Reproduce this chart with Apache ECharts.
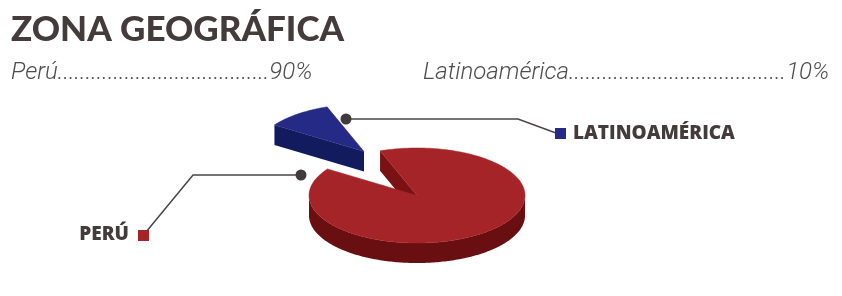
<!DOCTYPE html>
<html><head><meta charset="utf-8">
<script src="https://cdn.jsdelivr.net/npm/echarts@6/dist/echarts.min.js"></script>
<style>html,body{margin:0;padding:0;background:#fff}#c{width:842px;height:296px}</style>
</head><body><div id="c"></div>
<script>
// ---- data ----
const titleText = 'ZONA GEOGRÁFICA';
const categories = ['Perú', 'Latinoamérica'];
const values = [90, 10];
const percentLabels = ['90%', '10%'];
const dotCounts = [38, 39];

// ---- styles / layout ----
const topColors = ['#A52428', '#262A87'];
const sideColors = ['#690E11', '#121B5D'];
const cutColors = ['#7A1114', '#121B5D'];
const PIE = {cx: 417, cy: 195.5, rx: 108, ry: 47.5, depth: 20, startAngle: 146};
const EXPLODE = [[0, 0], [-53, -44]];
const LABELS = [
  {path: [[301, 175], [193, 175], [146, 232]], sq: [138, 230, 11, 11], text: [129, 235], align: 'right'},
  {path: [[346, 119], [518, 119], [556, 133]], sq: [555, 128, 11, 11], text: [573, 133.5], align: 'left'}
];
const SUB = [{x: 11, y: 73}, {x: 423, y: 73}];
const INK = '#433B3C';

const total = values.reduce((s, v) => s + v, 0);
const angles = [];
let acc = PIE.startAngle;
values.forEach(v => { const a0 = acc; acc += v / total * 360; angles.push([a0, acc]); });

function pt(a, ox, oy, dz) {
  const r = a * Math.PI / 180;
  return [PIE.cx + ox + PIE.rx * Math.cos(r), PIE.cy + oy - PIE.ry * Math.sin(r) + (dz || 0)];
}
function arc(a0, a1, ox, oy, dz) {
  const n = Math.max(2, Math.ceil(Math.abs(a1 - a0)));
  const out = [];
  for (let k = 0; k <= n; k++) out.push(pt(a0 + (a1 - a0) * k / n, ox, oy, dz));
  return out;
}

function renderItem(params, api) {
  const i = params.dataIndex;
  const [a0, a1] = angles[i];
  const [ox, oy] = EXPLODE[i];
  const D = PIE.depth;
  const apex = [PIE.cx + ox, PIE.cy + oy];
  const apexB = [apex[0], apex[1] + D];
  const zb = i === 0 ? 10 : 0;
  const ch = [];
  [[180, 360], [540, 720]].forEach(([f0, f1]) => {
    const s = Math.max(a0, f0), e = Math.min(a1, f1);
    if (e > s) {
      const top = arc(s, e, ox, oy, 0);
      const bot = arc(e, s, ox, oy, D);
      ch.push({type: 'polygon', z2: zb + 1, shape: {points: top.concat(bot)}, style: {fill: sideColors[i]}});
    }
  });
  const face = (a) => {
    const p = pt(a, ox, oy, 0), pb = pt(a, ox, oy, D);
    ch.push({type: 'polygon', z2: zb + 2, shape: {points: [apex, p, pb, apexB]}, style: {fill: cutColors[i]}});
  };
  if (Math.cos(a0 * Math.PI / 180) > 0) face(a0);
  if (Math.cos(a1 * Math.PI / 180) < 0) face(a1);
  ch.push({type: 'polygon', z2: zb + 3, shape: {points: [apex].concat(arc(a0, a1, ox, oy, 0))},
    style: {fill: topColors[i], stroke: topColors[i], lineWidth: 0.5}});
  const L = LABELS[i];
  ch.push({type: 'polyline', z2: 30, shape: {points: L.path}, style: {stroke: '#4A4546', lineWidth: 1.5, fill: null}});
  ch.push({type: 'circle', z2: 31, shape: {cx: L.path[0][0], cy: L.path[0][1], r: 5.5}, style: {fill: '#3F3B3C'}});
  ch.push({type: 'rect', z2: 31, shape: {x: L.sq[0], y: L.sq[1], width: L.sq[2], height: L.sq[3]}, style: {fill: topColors[i]}});
  ch.push({type: 'text', z2: 31, x: L.text[0], y: L.text[1], style: {
    text: categories[i].toUpperCase(), fill: INK, font: '800 19px "Open Sans"', align: L.align, verticalAlign: 'middle'}});
  return {type: 'group', children: ch};
}

const chart = echarts.init(document.getElementById('c'), null, {renderer: 'canvas'});
chart.setOption({
  animation: false,
  graphic: [
    {type: 'text', left: 11, top: 12, style: {text: titleText, fill: INK, font: '900 35px Lato'}},
    ...categories.map((c, i) => ({type: 'text', x: SUB[i].x, y: SUB[i].y, style: {
      text: c + '.'.repeat(dotCounts[i]) + percentLabels[i], fill: '#4D4D4D',
      font: 'italic 300 24px Roboto', verticalAlign: 'middle'}}))
  ],
  series: [{
    type: 'custom', coordinateSystem: 'none', renderItem: renderItem,
    data: values.map((v, i) => ({value: v, name: categories[i]}))
  }]
});
</script></body></html>
